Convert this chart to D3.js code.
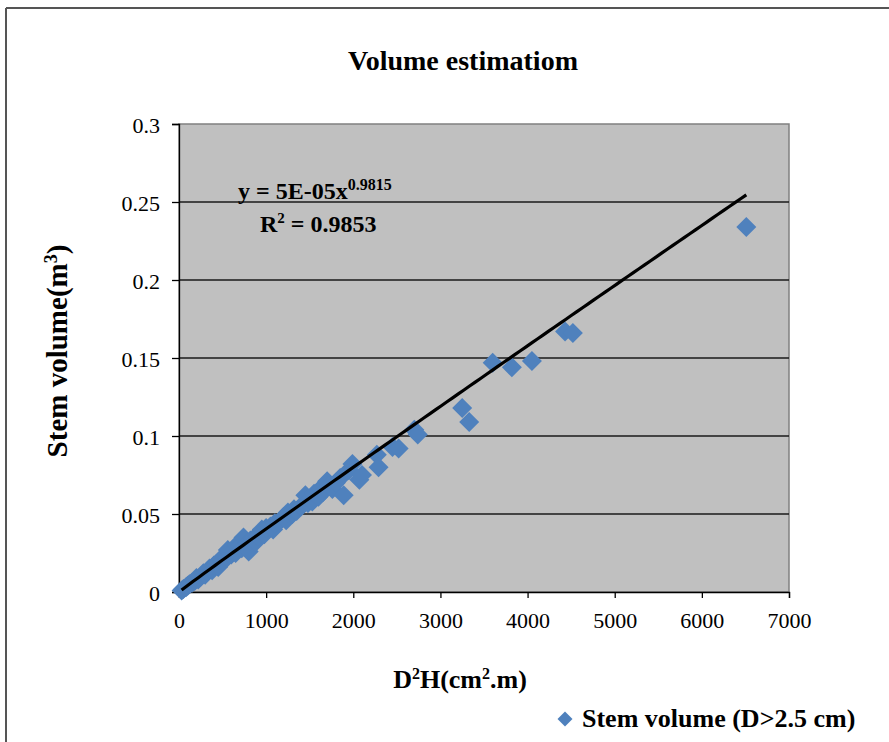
<!DOCTYPE html>
<html>
<head>
<meta charset="utf-8">
<script src="https://cdn.jsdelivr.net/npm/d3@7"></script>
<style>
  html, body { margin: 0; padding: 0; background: #fff; }
  svg { display: block; }
</style>
</head>
<body>
<svg id="chart" width="889" height="742"></svg>
<script>
// ---- data ----
const d2h = [30,50,80,100,120,150,180,200,220,250,280,300,320,350,380,400,430,450,480,500,520,550,560,600,620,650,660,700,720,740,780,800,820,850,880,900,950,980,1000,1050,1080,1100,1150,1200,1230,1250,1300,1320,1350,1400,1450,1480,1500,1530,1550,1600,1620,1650,1700,1720,1760,1800,1850,1890,1950,1990,2070,2100,2270,2290,2450,2520,2700,2740,3250,3330,3600,3820,4050,4430,4520,6510];
const stemVolume = [0.001,0.002,0.003,0.004,0.005,0.006,0.007,0.009,0.008,0.010,0.012,0.011,0.013,0.015,0.014,0.017,0.018,0.016,0.021,0.020,0.023,0.022,0.027,0.024,0.026,0.025,0.030,0.030,0.028,0.035,0.031,0.026,0.033,0.034,0.032,0.036,0.040,0.037,0.041,0.042,0.040,0.044,0.045,0.048,0.046,0.051,0.050,0.053,0.052,0.055,0.062,0.057,0.060,0.058,0.063,0.061,0.066,0.064,0.071,0.068,0.066,0.070,0.073,0.062,0.078,0.082,0.072,0.075,0.088,0.080,0.093,0.092,0.104,0.101,0.118,0.109,0.147,0.144,0.148,0.167,0.166,0.234];
const xTicks = [0,1000,2000,3000,4000,5000,6000,7000];
const yTicks = [0,0.05,0.1,0.15,0.2,0.25,0.3];
const yTickLabels = ["0","0.05","0.1","0.15","0.2","0.25","0.3"];
const trendA = 4.6e-5;   // fitted power-law coefficient (shown rounded as 5E-05)
const trendB = 0.9815;
const titleText = "Volume estimatiom";
const seriesName = "Stem volume (D>2.5 cm)";

const FONT = "'Liberation Serif', 'Times New Roman', Tinos, serif";

// ---- layout ----
const svg = d3.select("#chart");
const L = 179, R = 789, T = 124, B = 592;
const x = d3.scaleLinear().domain([0, 7000]).range([L, R]);
const y = d3.scaleLinear().domain([0, 0.3]).range([B, T]);

// outer chart frame (top & left visible)
svg.append("line").attr("x1", 6).attr("x2", 889).attr("y1", 8).attr("y2", 8)
  .attr("stroke", "#555").attr("stroke-width", 2);
svg.append("line").attr("x1", 6).attr("x2", 6).attr("y1", 8).attr("y2", 742)
  .attr("stroke", "#555").attr("stroke-width", 2);

// plot area
svg.append("rect").attr("x", L).attr("y", T).attr("width", R - L).attr("height", B - T)
  .attr("fill", "#c0c0c0").attr("stroke", "#808080").attr("stroke-width", 1.5);

// gridlines
svg.append("g").selectAll("line").data(yTicks.filter(d => d > 0 && d < 0.3)).join("line")
  .attr("x1", L).attr("x2", R).attr("y1", d => y(d)).attr("y2", d => y(d))
  .attr("stroke", "#1a1a1a").attr("stroke-width", 1.3);

// y axis
const yAxis = d3.axisLeft(y).tickValues(yTicks).tickSize(7).tickPadding(12)
  .tickFormat((d, i) => yTickLabels[i]);
const gy = svg.append("g").attr("transform", `translate(${L},0)`).call(yAxis);
gy.select(".domain").attr("stroke", "#000").attr("stroke-width", 1.3);
gy.selectAll(".tick line").attr("stroke", "#000").attr("stroke-width", 1.3);
gy.selectAll(".tick text").style("font-family", FONT).style("font-size", "22px")
  .attr("fill", "#000").attr("dy", "0.38em").attr("x", -19);

// x axis
const xAxis = d3.axisBottom(x).tickValues(xTicks).tickSize(6).tickPadding(14).tickFormat(d3.format("d"));
const gx = svg.append("g").attr("transform", `translate(0,${B})`).call(xAxis);
gx.select(".domain").attr("stroke", "#000").attr("stroke-width", 1.3);
gx.selectAll(".tick line").attr("stroke", "#000").attr("stroke-width", 1.3);
gx.selectAll(".tick text").style("font-family", FONT).style("font-size", "22px").attr("fill", "#000");

// points
const diamond = {
  draw(ctx, size) {
    const r = Math.sqrt(size / 2);
    ctx.moveTo(0, -r); ctx.lineTo(r, 0); ctx.lineTo(0, r); ctx.lineTo(-r, 0); ctx.closePath();
  }
};
const pts = d2h.map((v, i) => ({ x: v, y: stemVolume[i] }));
svg.append("g").selectAll("path").data(pts).join("path")
  .attr("d", d3.symbol().type(diamond).size(2 * 10 * 10))
  .attr("transform", d => `translate(${x(d.x)},${y(d.y)})`)
  .attr("fill", "#4f81bd");

// power trendline
const xMin = d3.min(d2h), xMax = d3.max(d2h);
const trendXs = d3.range(0, 101).map(i => xMin + (xMax - xMin) * i / 100);
svg.append("path")
  .datum(trendXs)
  .attr("d", d3.line().x(d => x(d)).y(d => y(trendA * Math.pow(d, trendB))))
  .attr("fill", "none").attr("stroke", "#000").attr("stroke-width", 3.2);

function txt(sel) { return sel.style("font-family", FONT).attr("fill", "#000"); }

// equation
const eq = txt(svg.append("text")).attr("x", 238).attr("y", 199)
  .style("font-size", "24px").attr("font-weight", "bold");
eq.append("tspan").text("y = 5E-05x");
eq.append("tspan").style("font-size", "16px").attr("dy", -9).text("0.9815");
const r2 = txt(svg.append("text")).attr("x", 260).attr("y", 232)
  .style("font-size", "24px").attr("font-weight", "bold");
r2.append("tspan").text("R");
r2.append("tspan").style("font-size", "15px").attr("dy", -9).text("2");
r2.append("tspan").attr("dy", 9).text(" = 0.9853");

// title
txt(svg.append("text")).attr("x", 463).attr("y", 70).attr("text-anchor", "middle")
  .style("font-size", "28px").attr("font-weight", "bold").text(titleText);

// y title
const yt = txt(svg.append("text")).attr("transform", "translate(67,351) rotate(-90)")
  .attr("text-anchor", "middle").style("font-size", "29px").attr("font-weight", "bold");
yt.append("tspan").text("Stem volume(m");
yt.append("tspan").style("font-size", "18px").attr("dy", -10).text("3");
yt.append("tspan").attr("dy", 10).text(")");

// x title
const xt = txt(svg.append("text")).attr("x", 460).attr("y", 688).attr("text-anchor", "middle")
  .style("font-size", "26px").attr("font-weight", "bold");
xt.append("tspan").text("D");
xt.append("tspan").style("font-size", "16px").attr("dy", -9).text("2");
xt.append("tspan").attr("dy", 9).text("H(cm");
xt.append("tspan").style("font-size", "16px").attr("dy", -9).text("2");
xt.append("tspan").attr("dy", 9).text(".m)");

// legend
svg.append("path").attr("d", d3.symbol().type(diamond).size(2 * 7.5 * 7.5))
  .attr("transform", "translate(565,719)").attr("fill", "#4f81bd");
txt(svg.append("text")).attr("x", 582).attr("y", 727).style("font-size", "26px")
  .attr("font-weight", "bold").text(seriesName);
</script>
</body>
</html>
